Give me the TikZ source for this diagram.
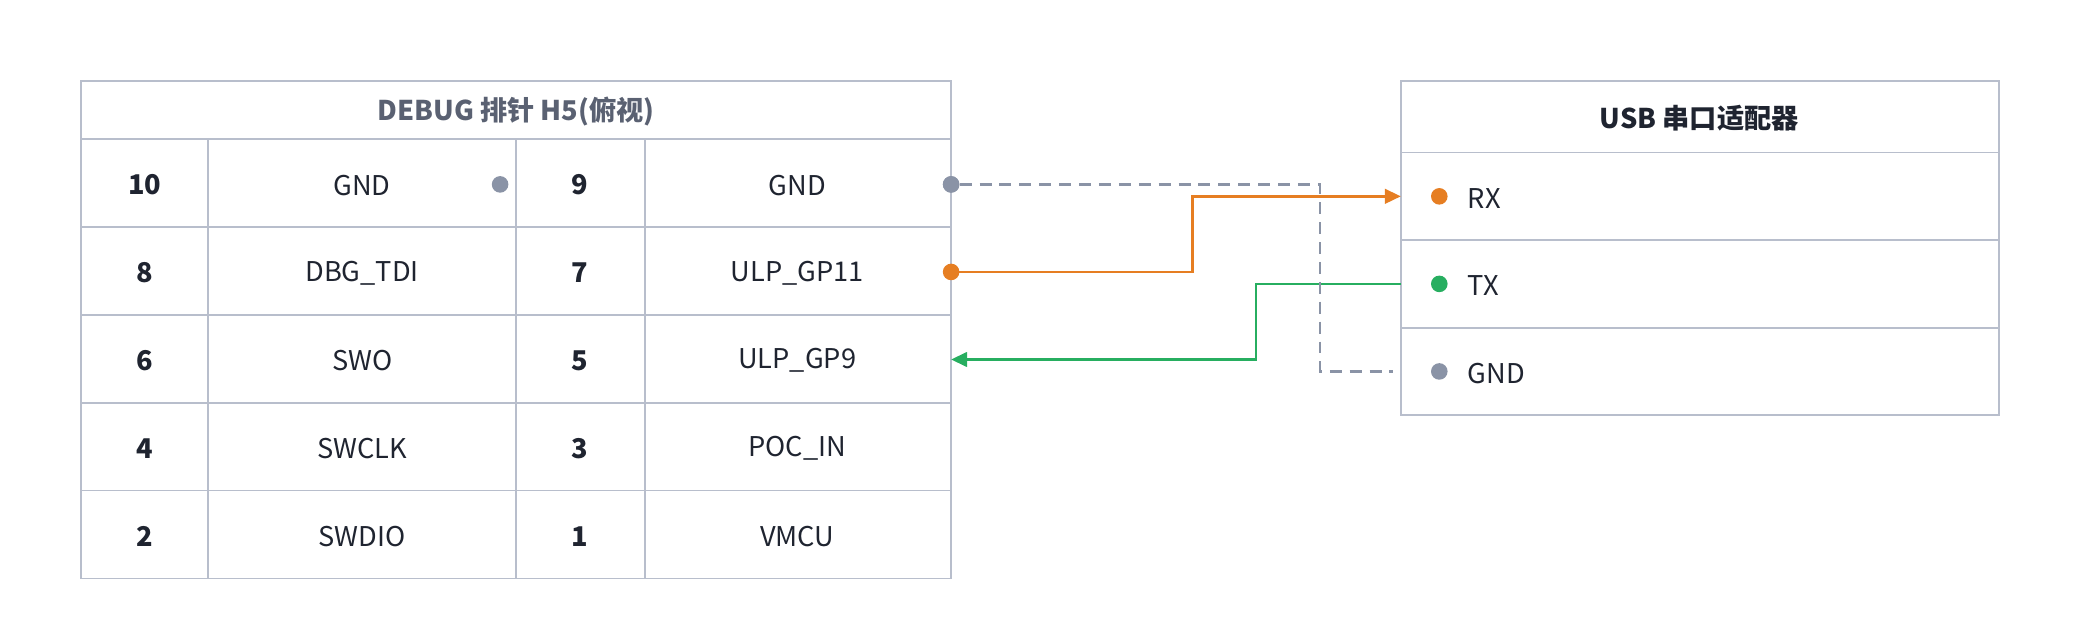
\documentclass[tikz,border=0pt]{standalone}
\usepackage{fontspec}
\setmainfont{Noto Sans CJK SC}
\usetikzlibrary{arrows.meta}
\definecolor{bord}{HTML}{B8BECC}
\definecolor{txt}{HTML}{1F2430}
\definecolor{hdr}{HTML}{5A6172}
\definecolor{org}{HTML}{E67E22}
\definecolor{grn}{HTML}{27AE60}
\definecolor{gry}{HTML}{8A93A6}
\begin{document}
\begin{tikzpicture}[x=1pt,y=-1pt,
  cell/.style={draw=bord,line width=1.3pt},
  lab/.style={font=\fontsize{20.5}{24}\selectfont,text=txt},
  num/.style={font=\fontsize{20.5}{24}\selectfont\bfseries,text=txt},
  dot/.style={circle,inner sep=0pt,minimum size=12.5pt},
  wire/.style={line width=1.8pt}]
\useasboundingbox (0,0) rectangle (1568,482.5);
% left table
\draw[cell] (61,61) rectangle (717,105);
\node[font=\fontsize{20.5}{24}\selectfont\bfseries,text=hdr] (lh) at (389,84) {DEBUG 排针 H5(俯视)};
\foreach \n/\a/\m/\b [count=\i from 0] in {10/GND/9/GND,8/DBG\_TDI/7/ULP\_GP11,6/SWO/5/ULP\_GP9,4/SWCLK/3/POC\_IN,2/SWDIO/1/VMCU}{
  \pgfmathsetmacro\yt{105+66.2*\i}
  \pgfmathsetmacro\yc{\yt+34.5}
  \draw[cell] (61,\yt) rectangle (157,\yt+66.2);
  \draw[cell] (157,\yt) rectangle (389,\yt+66.2);
  \draw[cell] (389,\yt) rectangle (486,\yt+66.2);
  \draw[cell] (486,\yt) rectangle (717,\yt+66.2);
  \node[num] (n\i) at (109,\yc) {\n};
  \node[lab] (a\i) at (273,\yc) {\a};
  \node[num] (m\i) at (437,\yc) {\m};
  \node[lab] (b\i) at (601,\yc) {\b};
}
% right box
\draw[cell] (1056,61) rectangle (1507,115);
\node[num] (rh) at (1281,89) {USB 串口适配器};
\foreach \t/\c [count=\i from 0] in {RX/org,TX/grn,GND/gry}{
  \pgfmathsetmacro\yt{115+66*\i}
  \draw[cell] (1056,\yt) rectangle (1507,\yt+66);
  \node[dot,fill=\c] (rd\i) at (1085,\yt+33) {};
  \node[lab,anchor=west] (rt\i) at (1103,\yt+34.5) {\t};
}
% pin dots
\node[dot,fill=gry] (d10) at (377,139) {};
\node[dot,fill=gry] (d9) at (717,139) {};
\node[dot,fill=org] (d7) at (717,205) {};
\coordinate (p5) at (717,271);
\coordinate (rxin) at (1056,148);
\coordinate (txout) at (1056,214);
\coordinate (gndin) at (1050,280);
% wires
\draw[wire,org,-{Triangle[length=12pt,width=11pt]}] (d7.center) -- (899,205) -- (899,148) -- (rxin);
\draw[wire,grn,-{Triangle[length=12pt,width=11pt]}] (txout) -- (947,214) -- (947,271) -- (p5);
\draw[wire,gry,dash pattern=on 9pt off 6pt] (d9.east) -- (995,139) -- (995,280) -- (gndin);
\node[dot,fill=gry] at (717,139) {};
\end{tikzpicture}
\end{document}
